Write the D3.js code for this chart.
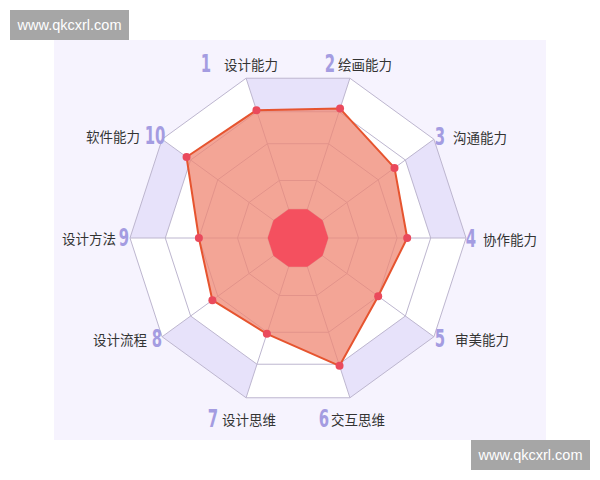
<!DOCTYPE html>
<html>
<head>
<meta charset="utf-8">
<script src="https://cdn.jsdelivr.net/npm/d3@7"></script>
<style>
  html, body { margin: 0; padding: 0; background: #ffffff; }
  svg { display: block; }
</style>
</head>
<body>
<svg id="chart" width="600" height="480"></svg>
<script>
// ---- data ----
const axisNumbers = ["1", "2", "3", "4", "5", "6", "7", "8", "9", "10"];
const axisLabels = ["设计能力", "绘画能力", "沟通能力", "协作能力", "审美能力", "交互思维", "设计思维", "设计流程", "设计方法", "软件能力"];
const scores = [80, 81, 71, 65, 59, 80, 60, 63, 59, 82];
const ringLevels = [18, 36, 59, 79, 100];
const maxValue = 100;
const watermark = "www.qkcxrl.com";

// ---- layout ----
const svg = d3.select("#chart");
const cx = 298, cy = 238, R = 168;
const n = axisLabels.length;

const rScale = d3.scaleLinear().domain([0, maxValue]).range([0, R]);
const aScale = d3.scaleLinear().domain([0, n]).range([-108 * Math.PI / 180, (360 - 108) * Math.PI / 180]);

const pt = (i, v) => [cx + rScale(v) * Math.cos(aScale(i)), cy + rScale(v) * Math.sin(aScale(i))];

// background panel
svg.append("rect").attr("x", 54).attr("y", 40).attr("width", 492).attr("height", 400).attr("fill", "#f6f3fe");

// band cells: outer band alternates lavender / white, inner bands white
const cells = [];
for (let j = 0; j < ringLevels.length; j++) {
  const inner = j === 0 ? 0 : ringLevels[j - 1];
  const outer = ringLevels[j];
  for (let i = 0; i < n; i++) {
    cells.push({ i, j, pts: [pt(i, inner), pt(i + 1, inner), pt(i + 1, outer), pt(i, outer)] });
  }
}
const outerIdx = ringLevels.length - 1;
svg.append("g").selectAll("path").data(cells).join("path")
  .attr("d", d => "M" + d.pts.map(p => p.join(",")).join("L") + "Z")
  .attr("fill", d => (d.j === outerIdx && d.i % 2 === 0) ? "#e7e2fa" : "#ffffff")
  .attr("stroke", "none");

// grid rings
const line = d3.line();
svg.append("g").selectAll("path").data(ringLevels).join("path")
  .attr("d", lv => line(d3.range(n).map(i => pt(i, lv))) + "Z")
  .attr("fill", "none").attr("stroke", "#bdb6cf").attr("stroke-width", 1);

// spokes
svg.append("g").selectAll("line").data(d3.range(n)).join("line")
  .attr("x1", cx).attr("y1", cy)
  .attr("x2", i => pt(i, maxValue)[0]).attr("y2", i => pt(i, maxValue)[1])
  .attr("stroke", "#bdb6cf").attr("stroke-width", 1);

// data polygon
const dataPts = scores.map((v, i) => pt(i, v));
svg.append("path")
  .attr("d", line(dataPts) + "Z")
  .attr("fill", "#ef8773").attr("fill-opacity", 0.75)
  .attr("stroke", "#e6542f").attr("stroke-width", 2).attr("stroke-linejoin", "round");

// central red decagon
svg.append("path")
  .attr("d", line(d3.range(n).map(i => pt(i, ringLevels[0]))) + "Z")
  .attr("fill", "#f4505f");

// points
svg.append("g").selectAll("circle").data(dataPts).join("circle")
  .attr("cx", d => d[0]).attr("cy", d => d[1]).attr("r", 4)
  .attr("fill", "#ea4a5c");

// labels
const labelPos = [
  { nx: 206, tx: 224, y: 64, anchor: "start" },
  { nx: 330, tx: 338, y: 64, anchor: "start" },
  { nx: 440, tx: 453, y: 137, anchor: "start" },
  { nx: 471, tx: 483, y: 239, anchor: "start" },
  { nx: 440, tx: 455, y: 339, anchor: "start" },
  { nx: 324, tx: 331, y: 419, anchor: "start" },
  { nx: 213, tx: 222, y: 419, anchor: "start" },
  { nx: 157, tx: 147, y: 339, anchor: "end" },
  { nx: 124, tx: 116, y: 238, anchor: "end" },
  { nx: 155, tx: 140, y: 136, anchor: "end" }
];
const lg = svg.append("g");
axisLabels.forEach((lab, i) => {
  const p = labelPos[i];
  lg.append("text")
    .attr("transform", `translate(${p.nx},${p.y}) scale(0.62,1)`)
    .attr("text-anchor", "middle").attr("dominant-baseline", "central")
    .attr("font-family", "'DejaVu Sans', sans-serif")
    .attr("font-weight", "bold").attr("font-size", 24)
    .attr("fill", "#a49ce1")
    .text(axisNumbers[i]);
  lg.append("text").attr("x", p.tx).attr("y", p.y)
    .attr("text-anchor", p.anchor).attr("dominant-baseline", "central")
    .attr("font-family", "'Noto Sans CJK SC', sans-serif")
    .attr("font-size", 13.5).attr("fill", "#333333")
    .text(lab);
});

// watermarks
[[10, 10], [471, 440]].forEach(([x, y]) => {
  svg.append("rect").attr("x", x).attr("y", y).attr("width", 119).attr("height", 30).attr("fill", "#a6a6a6");
  svg.append("text").attr("x", x + 59.5).attr("y", y + 15)
    .attr("text-anchor", "middle").attr("dominant-baseline", "central")
    .attr("font-family", "'Liberation Sans', Arial, sans-serif").attr("font-size", 14.5)
    .attr("fill", "#ffffff").text(watermark);
});
</script>
</body>
</html>
